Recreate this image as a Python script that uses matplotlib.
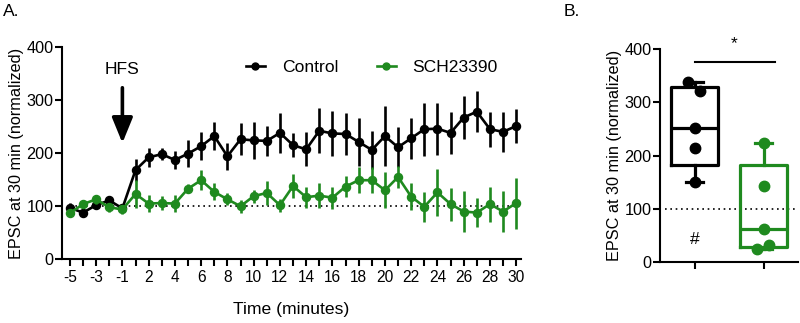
import numpy as np
import matplotlib
matplotlib.use("Agg")
import matplotlib.pyplot as plt
from matplotlib.lines import Line2D

plt.rcParams['font.family'] = ['Liberation Sans', 'DejaVu Sans']

# ---------------- data ----------------
time_labels = [-5, -4, -3, -2, -1] + list(range(1, 31))
ctrl_mean = [97, 88, 102, 111, 96, 168, 192, 198, 187, 199, 213, 232, 194, 226, 224, 223,
             238, 215, 207, 242, 237, 236, 221, 206, 232, 211, 228, 245, 246, 238, 267,
             278, 245, 240, 251]
ctrl_sem = [10, 8, 8, 8, 8, 20, 18, 11, 17, 26, 26, 26, 25, 30, 35, 28, 37, 23, 32, 42,
            43, 39, 45, 36, 57, 38, 39, 50, 49, 40, 41, 38, 33, 37, 32]
sch_mean = [87, 104, 113, 98, 94, 123, 105, 106, 105, 133, 149, 127, 113, 100, 119, 125,
            102, 138, 117, 120, 116, 137, 149, 149, 130, 155, 118, 99, 126, 104, 90, 88,
            104, 90, 106]
sch_sem = [8, 8, 8, 8, 8, 26, 16, 14, 16, 9, 19, 16, 11, 12, 12, 23, 12, 23, 20, 23, 21,
           19, 25, 25, 34, 20, 25, 28, 44, 31, 38, 28, 33, 39, 48]
tick_label_values = [-5, -3, -1, 2, 4, 6, 8, 10, 12, 14, 16, 18, 20, 22, 24, 26, 28, 30]

groups = ["Control", "SCH23390"]
ctrl_30 = [151, 215, 252, 321, 339]
sch_30 = [23, 31, 61, 142, 224]

BLACK = "#000000"
GREEN = "#1f8a1f"

fig = plt.figure(figsize=(8.0, 3.23), dpi=100)

# ---------------- panel A ----------------
axA = fig.add_axes([0.0775, 0.197, 0.651 - 0.0775, 0.855 - 0.197])
xi = np.arange(len(time_labels))
for mean, sem, col, lab in [(ctrl_mean, ctrl_sem, BLACK, "Control"),
                            (sch_mean, sch_sem, GREEN, "SCH23390")]:
    axA.errorbar(xi, mean, yerr=sem, color=col, lw=1.9, elinewidth=1.9, capsize=0,
                 marker='o', ms=5.8, zorder=3 if col == BLACK else 4)
axA.plot([0, len(xi) - 0.7], [100, 100], ls=(0, (1, 2.2)), color='black', lw=1.2, zorder=1)

axA.set_xlim(-0.6, len(xi) - 0.65)
axA.set_ylim(0, 400)
axA.set_yticks([0, 100, 200, 300, 400])
axA.set_xticks(xi, minor=True)
major_idx = [time_labels.index(v) for v in tick_label_values]
axA.set_xticks(major_idx)
axA.set_xticklabels([str(v) for v in tick_label_values], fontsize=11.2)
axA.tick_params(axis='y', labelsize=11.7, width=1.5, length=5, pad=1)
axA.tick_params(axis='x', which='both', width=1.5, length=5, pad=3)
for s in ['top', 'right']:
    axA.spines[s].set_visible(False)
for s in ['left', 'bottom']:
    axA.spines[s].set_linewidth(1.5)
axA.set_ylabel("EPSC at 30 min (normalized)", fontsize=11.7, labelpad=2)
axA.set_xlabel("Time (minutes)", fontsize=12.6, labelpad=12)

hfs_x = time_labels.index(-1)
axA.text(hfs_x, 358, "HFS", ha='center', va='center', fontsize=12.6)
axA.annotate("", xy=(hfs_x, 219), xytext=(hfs_x, 323),
             arrowprops=dict(arrowstyle='-|>,head_length=1.1,head_width=0.45', lw=2.6,
                             color='black', shrinkA=0, shrinkB=0, mutation_scale=14))
handles = [Line2D([], [], color=BLACK, lw=1.9, marker='o', ms=5),
           Line2D([], [], color=GREEN, lw=1.9, marker='o', ms=5)]
axA.legend(handles, groups, loc='center', bbox_to_anchor=(0.675, 0.905), ncol=2,
           frameon=False, fontsize=12.6, handlelength=1.1, handletextpad=0.95,
           columnspacing=2.2, borderpad=0, borderaxespad=0)
fig.text(0.004, 0.965, "A.", fontsize=12.6, ha='left', va='center')

# ---------------- panel B ----------------
axB = fig.add_axes([0.825, 0.19, 0.9975 - 0.825, 0.847 - 0.19])


def stats(d, label):
    d = np.asarray(d, float)
    q1, med, q3 = np.percentile(d, [25, 50, 75], method='weibull')
    return dict(med=med, q1=q1, q3=q3, whislo=d.min(), whishi=d.max(), fliers=[], label=label)


def offsets(d, thresh=20, step=0.1):
    # points that would overlap are nudged apart: the group extreme goes left
    d = np.asarray(d, float)
    off = np.zeros(len(d))
    order = np.argsort(d)
    for k in range(1, len(order)):
        a, b = order[k - 1], order[k]
        if d[b] - d[a] < thresh and off[a] == 0:
            ext, other = (a, b) if d[a] == d.min() else (b, a)
            off[ext] = -step
            off[other] = step * 0.75
    return off


for i, (vals, col) in enumerate([(ctrl_30, BLACK), (sch_30, GREEN)]):
    lp = dict(color=col, linewidth=2.3)
    axB.bxp([stats(vals, groups[i])], positions=[i], widths=0.68, showfliers=False,
            boxprops=lp, medianprops=lp, whiskerprops=lp, capprops=lp, capwidths=0.25,
            manage_ticks=False)
    axB.plot(i + offsets(vals), vals, 'o', color=col, ms=7.5, zorder=5, clip_on=False)

axB.plot([-0.43, 1.5], [100, 100], ls=(0, (1, 2.2)), color='black', lw=1.2, zorder=1)
axB.plot([0, 1.17], [376, 376], color='black', lw=1.5)
axB.text(0.58, 410, "*", ha='center', va='center', fontsize=12.6)
axB.text(0, 42, "#", ha='center', va='center', fontsize=12.6)

axB.set_xlim(-0.5, 1.5)
axB.set_ylim(0, 400)
axB.set_yticks([0, 100, 200, 300, 400])
axB.set_xticks([0, 1])
axB.set_xticklabels([])
axB.tick_params(axis='y', labelsize=11.7, width=1.5, length=5, pad=1)
axB.tick_params(axis='x', width=1.5, length=5)
for s in ['top', 'right']:
    axB.spines[s].set_visible(False)
for s in ['left', 'bottom']:
    axB.spines[s].set_linewidth(1.5)
axB.set_ylabel("EPSC at 30 min (normalized)", fontsize=11.7, labelpad=2)
fig.text(0.704, 0.965, "B.", fontsize=12.6, ha='left', va='center')

fig.savefig("out.png", dpi=100)
